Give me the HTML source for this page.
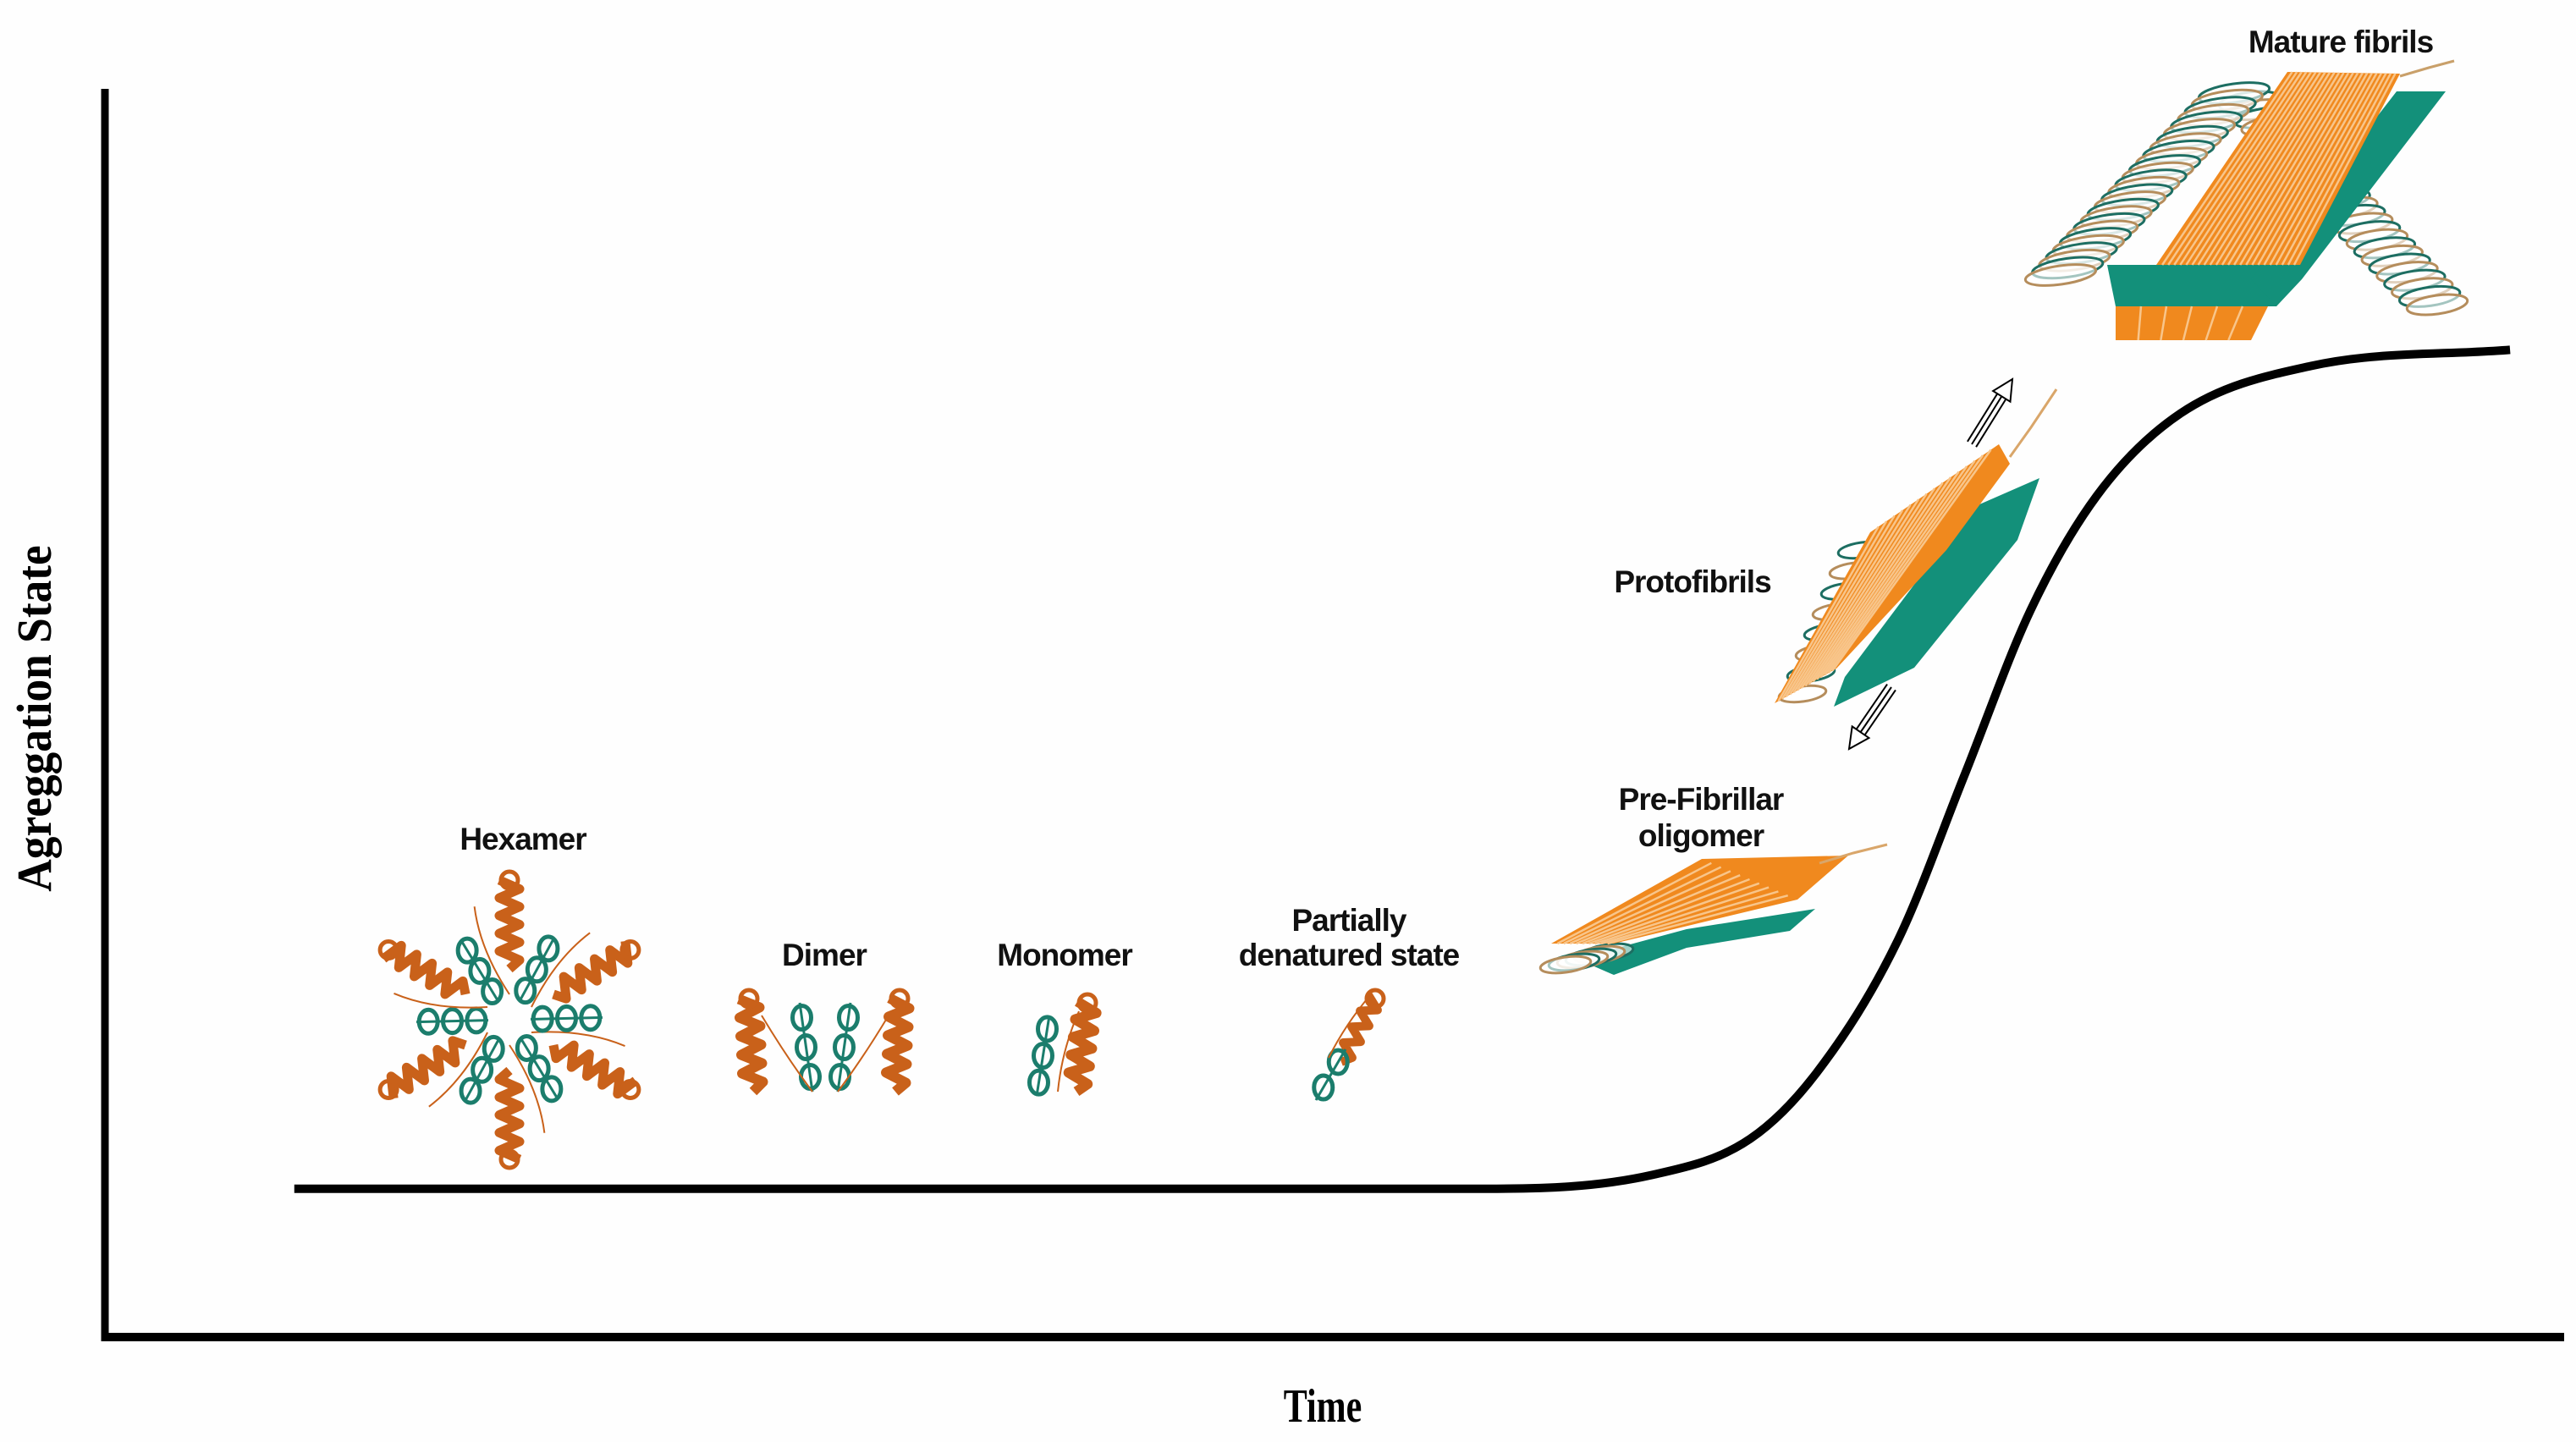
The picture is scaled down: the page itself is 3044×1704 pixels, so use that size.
<!DOCTYPE html>
<html><head><meta charset="utf-8"><style>
html,body{margin:0;padding:0;background:#fff;}
svg{display:block;}
.lab{font-family:"Liberation Sans",sans-serif;font-weight:bold;font-size:37px;fill:#111;text-anchor:middle;letter-spacing:-1px;}
.ser{font-family:"Liberation Serif",serif;font-weight:bold;fill:#000;text-anchor:middle;}
</style></head><body>
<svg id="chart" width="3044" height="1704" viewBox="0 0 3044 1704" xmlns="http://www.w3.org/2000/svg">
<rect width="3044" height="1704" fill="#fefefe"/>
<g id="axes">
<line x1="124" y1="105" x2="124" y2="1585" stroke="#000" stroke-width="9"/>
<line x1="120" y1="1580" x2="3030" y2="1580" stroke="#000" stroke-width="10"/>
</g>
<text class="ser" font-size="56" transform="translate(1563,1680) scale(0.75,1)">Time</text>
<text class="ser" font-size="58" transform="translate(60,849) rotate(-90) scale(0.92,1)">Agreggation State</text>
<g id="curve-layer"></g>
<g id="art"></g>
<text class="lab" x="2766" y="62">Mature fibrils</text>
<text class="lab" x="2000" y="700">Protofibrils</text>
<text class="lab" x="2010" y="957">Pre-Fibrillar</text>
<text class="lab" x="2010" y="1000">oligomer</text>
<text class="lab" x="1594" y="1100">Partially</text>
<text class="lab" x="1594" y="1141">denatured state</text>
<text class="lab" x="1258" y="1141">Monomer</text>
<text class="lab" x="974" y="1141">Dimer</text>
<text class="lab" x="618" y="1004">Hexamer</text>
</svg>
<script>
const timeValues = [7.7, 56.2, 62.9, 66.9, 69.6, 72.9, 75.6, 78.3, 81.0, 84.4, 89.7, 97.8];
const aggValues = [11.9, 11.9, 13.0, 15.9, 21.2, 31.8, 45.0, 58.3, 67.5, 74.1, 77.9, 79.2];
const timeDomain = [0, 100];
const aggDomain = [0, 100];

const NS = 'http://www.w3.org/2000/svg';
function xScale(t){ return 124 + (t - timeDomain[0]) / (timeDomain[1] - timeDomain[0]) * 2906; }
function yScale(v){ return 1580 - (v - aggDomain[0]) / (aggDomain[1] - aggDomain[0]) * 1473; }

(function drawCurve(){
  const xs = timeValues.map(xScale), ys = aggValues.map(yScale), n = xs.length;
  const dl = [], m = [];
  for (let i = 0; i < n - 1; i++) dl.push((ys[i + 1] - ys[i]) / (xs[i + 1] - xs[i]));
  m[0] = dl[0]; m[n - 1] = dl[n - 2];
  for (let i = 1; i < n - 1; i++) m[i] = (dl[i - 1] * dl[i] <= 0) ? 0 : (dl[i - 1] + dl[i]) / 2;
  for (let i = 0; i < n - 1; i++) {
    if (dl[i] === 0) { m[i] = 0; m[i + 1] = 0; continue; }
    const a = m[i] / dl[i], b = m[i + 1] / dl[i], s = a * a + b * b;
    if (s > 9) { const t = 3 / Math.sqrt(s); m[i] = t * a * dl[i]; m[i + 1] = t * b * dl[i]; }
  }
  let d = 'M' + xs[0] + ',' + ys[0];
  for (let i = 0; i < n - 1; i++) {
    const h = (xs[i + 1] - xs[i]) / 3;
    d += ' C' + (xs[i] + h) + ',' + (ys[i] + m[i] * h) + ' ' + (xs[i + 1] - h) + ',' + (ys[i + 1] - m[i + 1] * h) + ' ' + xs[i + 1] + ',' + ys[i + 1];
  }
  const path = document.createElementNS(NS, 'path');
  path.setAttribute('d', d);
  path.setAttribute('fill', 'none');
  path.setAttribute('stroke', '#000');
  path.setAttribute('stroke-width', '10');
  
  
  document.getElementById('curve-layer').appendChild(path);
})();

const art = document.getElementById('art');
const OR = '#c9611a', ORF = '#f0891e', TL = '#1b7d6c', TLF = '#13907a';
function add(tag, attrs, parent){
  const e = document.createElementNS(NS, tag);
  for (const k in attrs) e.setAttribute(k, attrs[k]);
  (parent || art).appendChild(e);
  return e;
}
function helix(x1, y1, x2, y2, amp, n, col, w, g){
  const dx = x2 - x1, dy = y2 - y1, L = Math.hypot(dx, dy), nx = -dy / L, ny = dx / L;
  let d = 'M' + x1 + ',' + y1;
  for (let i = 1; i <= n * 2; i++) {
    const f = i / (n * 2), s = (i % 2 ? 1 : -1) * amp;
    d += ' L' + (x1 + dx * f + nx * s) + ',' + (y1 + dy * f + ny * s);
  }
  add('path', {d: d, fill: 'none', stroke: col, 'stroke-width': w, 'stroke-linejoin': 'round'}, g);
  add('circle', {cx: x2, cy: y2, r: 10, fill: 'none', stroke: col, 'stroke-width': 5}, g);
}
function loops(x1, y1, x2, y2, n, g){
  add('line', {x1: x1, y1: y1, x2: x2, y2: y2, stroke: TL, 'stroke-width': 3}, g);
  for (let i = 0; i < n; i++) {
    const f = (i + 0.5) / n;
    add('ellipse', {cx: x1 + (x2 - x1) * f, cy: y1 + (y2 - y1) * f, rx: 11, ry: 14, fill: 'none', stroke: TL, 'stroke-width': 5}, g);
  }
}

// hexamer
const hex = add('g', {});


for (let k = 0; k < 6; k++) {
  const a = (k * 60 + 30) * Math.PI / 180, cx = 602, cy = 1205;
  const ca = Math.cos(a), sa = Math.sin(a);
  helix(cx + ca * 60, cy + sa * 60, cx + ca * 165, cy + sa * 165, 12, 5, OR, 11, hex);
  const b = a + 0.5;
  loops(cx + Math.cos(b) * 25, cy + Math.sin(b) * 25, cx + Math.cos(b) * 110, cy + Math.sin(b) * 110, 3, hex);
  add('path', {d: 'M' + (cx + ca * 30) + ',' + (cy + sa * 30) + ' Q' + (cx + Math.cos(a - 0.4) * 90) + ',' + (cy + Math.sin(a - 0.4) * 90) + ' ' + (cx + Math.cos(a - 0.3) * 140) + ',' + (cy + Math.sin(a - 0.3) * 140), fill: 'none', stroke: OR, 'stroke-width': 2}, hex);
}
// dimer
const dim = add('g', {});


helix(890, 1290, 885, 1180, 12, 5, OR, 12, dim);
helix(1058, 1290, 1063, 1180, 12, 5, OR, 12, dim);
loops(945, 1185, 960, 1290, 3, dim);
loops(1005, 1185, 990, 1290, 3, dim);
add('path', {d: 'M900,1200 Q930,1250 960,1290 M1050,1200 Q1020,1250 990,1290', fill: 'none', stroke: OR, 'stroke-width': 2}, dim);
// monomer
const mon = add('g', {});


helix(1272, 1290, 1285, 1185, 12, 5, OR, 12, mon);
loops(1240, 1200, 1225, 1295, 3, mon);
add('path', {d: 'M1250,1290 Q1255,1240 1275,1195', fill: 'none', stroke: OR, 'stroke-width': 2}, mon);
// partially denatured
const pd = add('g', {});


helix(1585, 1255, 1625, 1180, 9, 4, OR, 10, pd);
loops(1555, 1300, 1590, 1240, 2, pd);
add('path', {d: 'M1570,1250 Q1590,1210 1620,1175', fill: 'none', stroke: OR, 'stroke-width': 2}, pd);

function poly(pts, fill, g){ return add('polygon', {points: pts.map(p => p.join(',')).join(' '), fill: fill}, g); }
function coils(p0, p1, n, rx, ry, g){
  for (let i = 0; i < n; i++) {
    const f = i / (n - 1);
    const cx = p0[0] + (p1[0] - p0[0]) * f, cy = p0[1] + (p1[1] - p0[1]) * f;
    add('ellipse', {cx: cx, cy: cy, rx: rx, ry: ry, transform: 'rotate(-8 ' + cx + ' ' + cy + ')', fill: '#fff', 'fill-opacity': 0.6, stroke: i % 2 ? '#b58d5c' : '#1d6e62', 'stroke-width': 3}, g);
  }
}
function stripes(o, n, col, g){
  const [a, b, c, d] = o;
  for (let i = 1; i < n; i++) {
    const f = i / n;
    add('line', {x1: a[0] + (d[0] - a[0]) * f, y1: a[1] + (d[1] - a[1]) * f, x2: b[0] + (c[0] - b[0]) * f, y2: b[1] + (c[1] - b[1]) * f, stroke: col, 'stroke-width': 2.5}, g);
  }
}
function grp(name){
  const g = add('g', {});
  
  
  return g;
}
// mature fibrils
const mf = grp('mature-fibrils-illustration');
coils([2658, 120], [2880, 360], 26, 36, 11, mf);
poly([[2490, 313], [2720, 313], [2690, 362], [2500, 362]], TLF, mf);
poly([[2500, 362], [2680, 362], [2660, 402], [2500, 402]], ORF, mf);
stripes([[2500, 362], [2500, 402], [2660, 402], [2680, 362]], 6, '#f8c58a', mf);
poly([[2832, 108], [2890, 108], [2720, 330], [2690, 362], [2660, 330]], TLF, mf);
coils([2640, 110], [2435, 325], 26, 42, 11, mf);
poly([[2703, 85], [2836, 87], [2718, 313], [2548, 313]], ORF, mf);
stripes([[2703, 85], [2548, 313], [2718, 313], [2836, 87]], 24, '#f8c58a', mf);
add('path', {d: 'M2836,90 L2870,80 L2900,72', stroke: '#c9a06a', 'stroke-width': 3, fill: 'none'}, mf);
// protofibrils
const pf = grp('protofibrils-illustration');
poly([[2410, 565], [2384, 638], [2262, 789], [2167, 835], [2180, 800], [2330, 600]], TLF, pf);
coils([2200, 650], [2130, 820], 8, 28, 9, pf);
poly([[2097, 831], [2210, 629], [2362, 525], [2375, 548], [2300, 650], [2170, 790]], ORF, pf);
stripes([[2210, 629], [2097, 831], [2170, 790], [2362, 525]], 16, '#f8c58a', pf);
add('path', {d: 'M2375,540 L2400,505 L2430,460', stroke: '#d9a66a', 'stroke-width': 3, fill: 'none'}, pf);
// pre-fibrillar
const po = grp('pre-fibrillar-oligomer-illustration');
poly([[2145, 1074], [2115, 1100], [1993, 1120], [1907, 1152], [1863, 1133], [1993, 1098]], TLF, po);
coils([1900, 1125], [1850, 1140], 6, 30, 9, po);
poly([[1833, 1115], [2011, 1015], [2184, 1011], [2124, 1063], [1907, 1115]], ORF, po);
stripes([[2011, 1015], [1833, 1115], [1907, 1115], [2124, 1063]], 10, '#f8c58a', po);
add('path', {d: 'M2150,1020 L2190,1008 L2230,998', stroke: '#d9a66a', 'stroke-width': 3, fill: 'none'}, po);

// arrows
function arrow(x1, y1, x2, y2, name){
  const g = grp(name);
  const dx = x2 - x1, dy = y2 - y1, L = Math.hypot(dx, dy), ux = dx / L, uy = dy / L, nx = -uy, ny = ux;
  for (const o of [-6, 0, 6]) add('line', {x1: x1 + nx * o, y1: y1 + ny * o, x2: x2 - ux * 15 + nx * o, y2: y2 - uy * 15 + ny * o, stroke: '#000', 'stroke-width': 2}, g);
  add('polygon', {points: [x2 + ',' + y2, (x2 - ux * 24 + nx * 12) + ',' + (y2 - uy * 24 + ny * 12), (x2 - ux * 24 - nx * 12) + ',' + (y2 - uy * 24 - ny * 12)].join(' '), fill: '#fff', stroke: '#000', 'stroke-width': 2}, g);
}
arrow(2330, 525, 2378, 448, 'arrow-to-mature');
arrow(2235, 812, 2185, 885, 'arrow-to-oligomer');
</script>
</body></html>
